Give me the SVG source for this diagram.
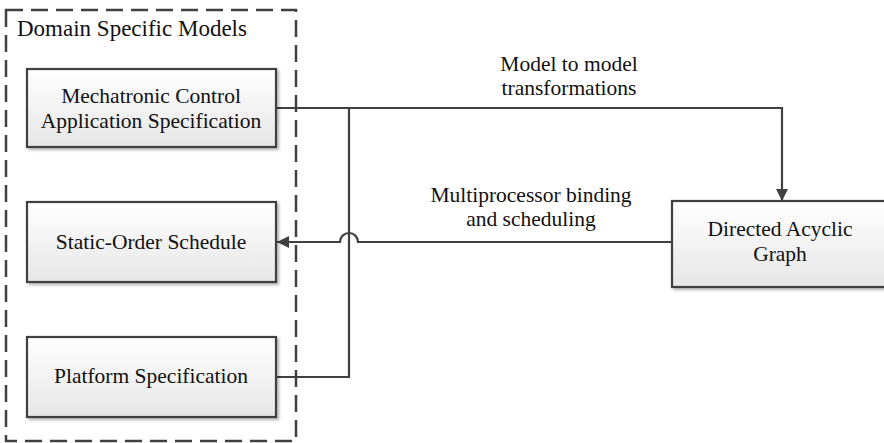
<svg xmlns="http://www.w3.org/2000/svg" width="884" height="443" viewBox="0 0 884 443">
  <defs>
    <linearGradient id="boxFill" x1="0" y1="0" x2="0" y2="1">
      <stop offset="0" stop-color="#ffffff"/>
      <stop offset="1" stop-color="#e6e6e6"/>
    </linearGradient>
    <filter id="shadow" x="-5%" y="-10%" width="115%" height="130%">
      <feGaussianBlur in="SourceAlpha" stdDeviation="1.5"/>
      <feOffset dx="2" dy="2" result="b"/>
      <feComponentTransfer><feFuncA type="linear" slope="0.3"/></feComponentTransfer>
      <feMerge><feMergeNode/><feMergeNode in="SourceGraphic"/></feMerge>
    </filter>
    <marker id="arrow" viewBox="0 0 10 10" refX="10" refY="5" markerWidth="12" markerHeight="12" markerUnits="userSpaceOnUse" orient="auto">
      <path d="M0,0 L10,5 L0,10 Z" fill="#404040"/>
    </marker>
  </defs>
  <style>
    .box { fill: url(#boxFill); stroke: #404040; stroke-width: 2.2; filter: url(#shadow); }
    text { font-family: "Liberation Serif", "Times New Roman", serif; font-size: 21.5px; fill: #111; text-anchor: middle; }
    .title { font-size: 23px; text-anchor: start; }
    .wire { fill: none; stroke: #404040; stroke-width: 2.2; }
    .frame { fill: none; stroke: #404040; stroke-width: 2.5; stroke-dasharray: 17 8; }
  </style>

  <rect width="884" height="443" fill="#ffffff"/>

  <g id="domain-models">
    <rect class="frame" x="6" y="10" width="290" height="431"/>
    <text class="title" x="17" y="36">Domain Specific Models</text>
  </g>

  <g id="connectors">
    <!-- transformations path: both specifications feed the DAG -->
    <path class="wire" d="M276,108 L782,108 L782,201" marker-end="url(#arrow)"/>
    <path class="wire" d="M276,377 L349,377 L349,108"/>
    <!-- scheduling path back to the static-order schedule, hopping over the vertical wire -->
    <path class="wire" d="M672,242 L358,242 A9,9 0 0 0 340,242 L277,242" marker-end="url(#arrow)"/>
    <text x="569" y="71">Model to model</text>
    <text x="569" y="95">transformations</text>
    <text x="531" y="202">Multiprocessor binding</text>
    <text x="531" y="226">and scheduling</text>
  </g>

  <g id="mechatronic-spec">
    <rect class="box" x="27" y="69" width="249" height="78"/>
    <text x="151" y="103">Mechatronic Control</text>
    <text x="151" y="128">Application Specification</text>
  </g>

  <g id="static-order-schedule">
    <rect class="box" x="27" y="202" width="249" height="80"/>
    <text x="151" y="249">Static-Order Schedule</text>
  </g>

  <g id="platform-spec">
    <rect class="box" x="27" y="337" width="249" height="80"/>
    <text x="151" y="383">Platform Specification</text>
  </g>

  <g id="dag">
    <rect class="box" x="672" y="201" width="216" height="86"/>
    <text x="780" y="236">Directed Acyclic</text>
    <text x="780" y="261">Graph</text>
  </g>
</svg>
